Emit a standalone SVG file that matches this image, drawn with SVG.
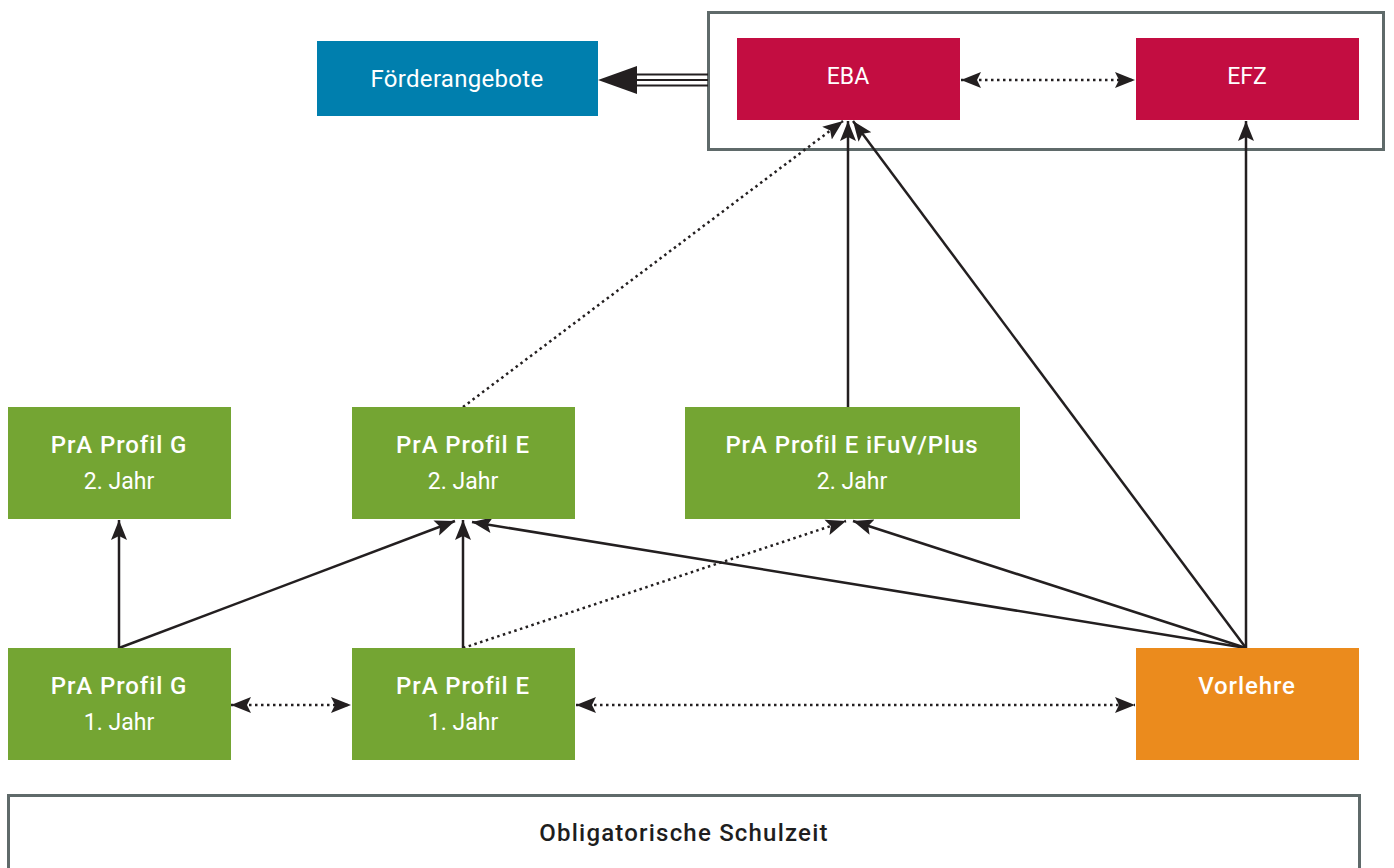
<svg xmlns="http://www.w3.org/2000/svg" width="1394" height="868" viewBox="0 0 1394 868">
<style>
.frame{fill:#fff;stroke:#5f6a6a;stroke-width:3}
.green{fill:#74a533}
.red{fill:#c30d41}
.blue{fill:#007fae}
.orange{fill:#eb8b1d}
.t{font-family:Roboto,"Liberation Sans",sans-serif;font-size:23px;fill:#fff;text-anchor:middle}
.b{font-weight:500;font-size:24px;letter-spacing:0.9px}
.dark{fill:#1e1e1e}
.ln{stroke:#231f20;stroke-width:2.5;fill:none}
.solid{marker-end:url(#ah)}
.dot{stroke-dasharray:2.5 3.5;marker-end:url(#ah)}
.both{marker-start:url(#ahs)}
</style>
<defs>
<marker id="ah" markerUnits="userSpaceOnUse" markerWidth="22" markerHeight="18" refX="20" refY="8" orient="auto" viewBox="0 0 22 16">
<path d="M0,0 L20,8 L0,16 L4,8 Z" fill="#231f20"/>
</marker>
<marker id="ahs" markerUnits="userSpaceOnUse" markerWidth="22" markerHeight="18" refX="2" refY="8" orient="auto" viewBox="0 0 22 16">
<path d="M22,0 L2,8 L22,16 L18,8 Z" fill="#231f20"/>
</marker>
</defs>
<rect class="frame" x="708.500" y="12.500" width="675" height="137"/>
<rect class="frame" x="8.500" y="795.500" width="1351" height="90"/>
<g id="connectors">
<line x1="708" y1="74.500" x2="634" y2="74.500" stroke="#231f20" stroke-width="2"/>
<line x1="708" y1="80" x2="634" y2="80" stroke="#231f20" stroke-width="2"/>
<line x1="708" y1="85.500" x2="634" y2="85.500" stroke="#231f20" stroke-width="2"/>
<path d="M598,80 L637,66 L637,94 Z" fill="#231f20"/>
<line class="ln dot both" x1="961" y1="80" x2="1135" y2="80"/>
<line class="ln dot both" x1="231" y1="705" x2="351" y2="705"/>
<line class="ln dot both" x1="576" y1="705" x2="1135" y2="705"/>
<line class="ln solid" x1="119" y1="648" x2="119" y2="520"/>
<line class="ln solid" x1="119" y1="648" x2="455" y2="521"/>
<line class="ln solid" x1="463" y1="648" x2="463" y2="520"/>
<line class="ln dot" x1="463" y1="648" x2="846" y2="521"/>
<line class="ln solid" x1="1246" y1="648" x2="472" y2="522"/>
<line class="ln solid" x1="1246" y1="648" x2="853" y2="521"/>
<line class="ln solid" x1="1246" y1="648" x2="853" y2="121"/>
<line class="ln solid" x1="1246" y1="648" x2="1246" y2="121"/>
<line class="ln solid" x1="848" y1="407" x2="848" y2="121"/>
<line class="ln dot" x1="463" y1="407" x2="843" y2="121"/>
</g>
<g id="foerderangebote"><rect class="blue" x="317" y="41" width="281" height="75"/><text class="t" x="457" y="87" style="font-size:24px;letter-spacing:0.3px">Förderangebote</text></g>
<g id="eba"><rect class="red" x="737" y="38" width="223" height="82"/><text class="t" x="848" y="84">EBA</text></g>
<g id="efz"><rect class="red" x="1136" y="38" width="223" height="82"/><text class="t" x="1247" y="84">EFZ</text></g>
<g id="g2"><rect class="green" x="8" y="407" width="223" height="112"/><text class="t b" x="119" y="453">PrA Profil G</text><text class="t" x="119" y="489">2. Jahr</text></g>
<g id="e2"><rect class="green" x="352" y="407" width="223" height="112"/><text class="t b" x="463" y="453">PrA Profil E</text><text class="t" x="463" y="489">2. Jahr</text></g>
<g id="ifuv"><rect class="green" x="685" y="407" width="335" height="112"/><text class="t b" x="852" y="453">PrA Profil E iFuV/Plus</text><text class="t" x="852" y="489">2. Jahr</text></g>
<g id="g1"><rect class="green" x="8" y="648" width="223" height="112"/><text class="t b" x="119" y="694">PrA Profil G</text><text class="t" x="119" y="730">1. Jahr</text></g>
<g id="e1"><rect class="green" x="352" y="648" width="223" height="112"/><text class="t b" x="463" y="694">PrA Profil E</text><text class="t" x="463" y="730">1. Jahr</text></g>
<g id="vorlehre"><rect class="orange" x="1136" y="648" width="223" height="112"/><text class="t b" x="1247" y="694">Vorlehre</text></g>
<g id="schulzeit"><text class="t b dark" x="684" y="841" style="font-size:24px;letter-spacing:1.2px">Obligatorische Schulzeit</text></g>
</svg>
